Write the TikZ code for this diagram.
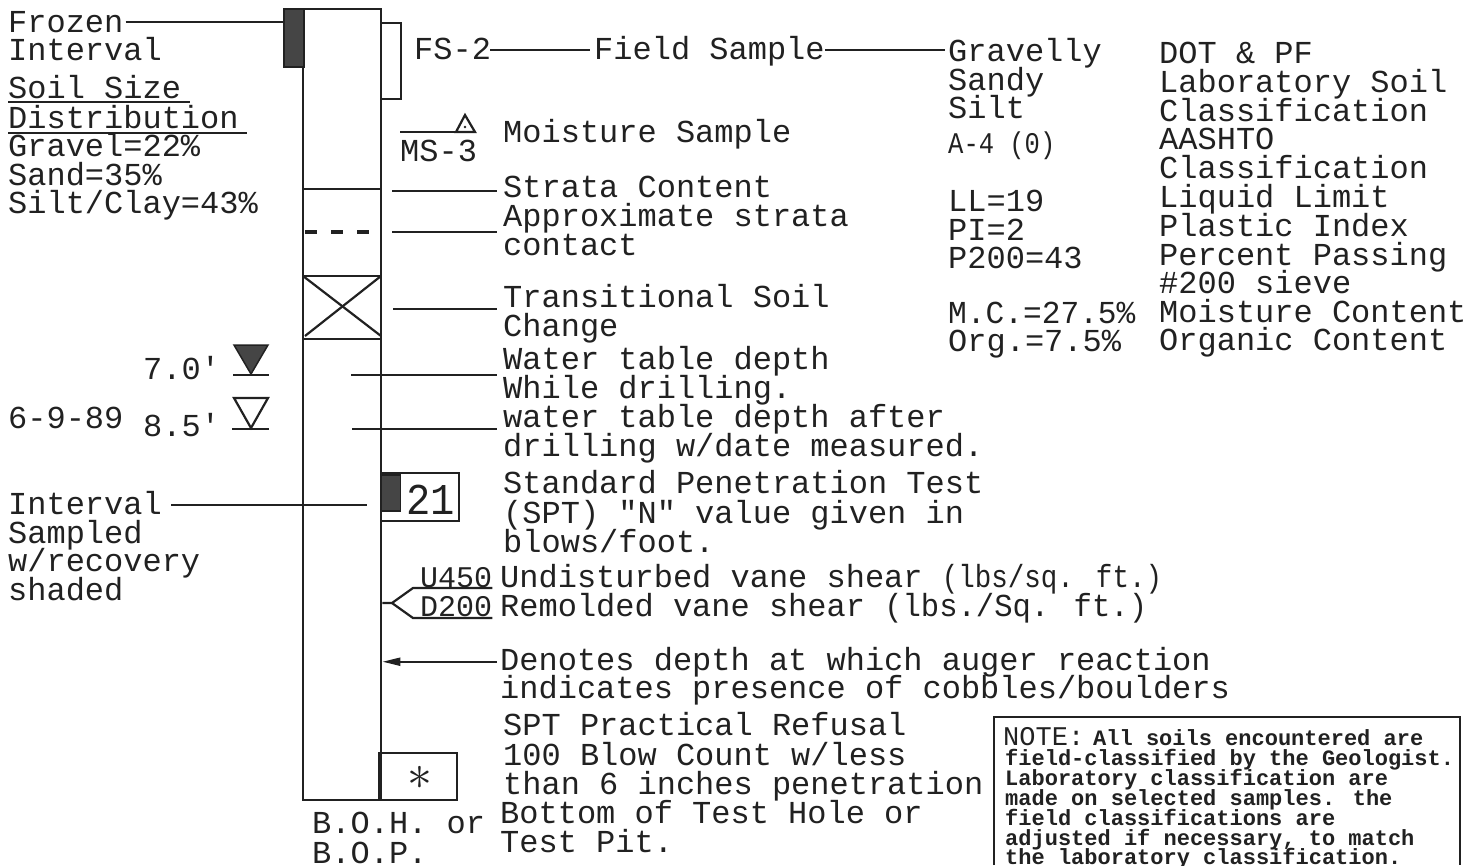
\documentclass[tikz,border=0pt]{standalone}
\usepackage{graphicx}
\usepackage{fontspec}
\setmainfont{Liberation Mono}
\usetikzlibrary{arrows.meta, positioning, calc}

\definecolor{ink}{gray}{0.13}
\definecolor{shade}{gray}{0.27}

\begin{document}
\begin{tikzpicture}[
    x=1pt, y=-1pt,
    lbl/.style={anchor=base west, inner sep=0pt, align=left, text=ink, font=\fontsize{32}{29}\selectfont},
    small/.style={lbl, font=\fontsize{30}{29}\selectfont},
    notetext/.style={lbl, font=\fontsize{22}{20}\selectfont\bfseries},
    outline/.style={draw=ink, line width=2.8pt, line join=miter},
    thin line/.style={draw=ink, line width=2.2pt},
    leader/.style={thin line, shorten >=6pt},
    tank/.style={rectangle, draw=ink, line width=2.8pt, inner sep=0pt},
    recovery/.style={rectangle, fill=shade, draw=ink, line width=1.5pt, inner sep=0pt}
]
\useasboundingbox (0,0) rectangle (1482,865);

% Boring column
\node[tank, minimum width=78pt, minimum height=791pt] (hole) at (342,404.5) {};
\node[recovery, minimum width=20pt, minimum height=58pt] (frozen_block) at (294,38) {};
\draw[outline] (382,23) -- (401,23) -- (401,99) -- (382,99);
\draw[outline] (303,189) -- (381,189);
\draw[outline, line width=3.2pt, dash pattern=on 12pt off 14pt] (305,232) -- (381,232);
\draw[outline] (303,276) -- (381,276);
\draw[outline] (303,339) -- (381,339);
\draw[thin line] (303,276) -- (381,336);
\draw[thin line] (381,276) -- (305,336);

% Left column
\node[lbl] (frozen) at (8,32) {Frozen};
\node[lbl] (frozen_b) at (8,60) {Interval};
\node[lbl] (soil_a) at (8,98) {Soil Size};
\node[lbl] (soil_b) at (8,128) {Distribution};
\node[lbl] (gravel) at (8,156) {Gravel=22\%};
\node[lbl] (sand) at (8,185) {Sand=35\%};
\node[lbl] (silt) at (8,213) {Silt/Clay=43\%};
\draw[thin line] (8,102) -- (190,102);
\draw[thin line] (8,133) -- (247,133);
\node[lbl] (depth_a) at (143,379) {7.0\textquotesingle};
\node[lbl] (date) at (8,428) {6-9-89};
\node[lbl] (depth_b) at (143,436) {8.5\textquotesingle};
\node[lbl] (interval) at (8,514) {Interval};
\node[lbl] (interval_b) at (8,543) {Sampled};
\node[lbl] (interval_c) at (8,571) {w/recovery};
\node[lbl] (interval_d) at (8,600) {shaded};

% Water table symbols
\draw[draw=ink, line width=1.5pt, fill=shade] (234,345) -- (268,345) -- (251,374) -- cycle;
\draw[thin line] (233,375) -- (269,375);
\draw[thin line] (234,398) -- (268,398) -- (251,428) -- cycle;
\draw[thin line] (232,429) -- (269,429);

% Samples
\node[lbl] (fs) at (414,59) {FS-2};
\node[lbl] (field) at (594,59) {Field Sample};
\node[lbl] (ms) at (400,161) {MS-3};
\draw[thin line] (400,132) -- (476,132);
\draw[thin line] (465,115) -- (456,132) -- (475,132) -- cycle;
\fill[ink] (465,127) circle (1.4pt);

% SPT box
\node[tank, minimum width=78pt, minimum height=48pt] (spt_box) at (420,497) {};
\node[recovery, minimum width=19pt, minimum height=36pt] (spt_shade) at (391,493) {};
\node[lbl, font=\fontsize{44}{44}\selectfont] (blows) at (406,514) {\scalebox{0.92}[1]{21}};

% Vane shear
\node[lbl, font=\fontsize{30}{29}\selectfont] (vane_u) at (420,587) {U450};
\node[lbl, font=\fontsize{30}{29}\selectfont] (vane_d) at (420,616) {D200};
\coordinate (fork) at (392,603);
\coordinate (fork_u) at (413,588);
\coordinate (fork_d) at (413,618);
\draw[thin line] (hole.east |- fork) -- (fork) -- (fork_u) -- (vane_u.base east |- fork_u);
\draw[thin line] (fork) -- (fork_d) -- (vane_d.base east |- fork_d);

% Refusal box
\node[tank, minimum width=78pt, minimum height=47pt] (refusal_box) at (418,776.5) {};
\node[inner sep=0pt, text=ink, font=\fontsize{46}{46}\selectfont] (refusal) at (420,778) {\scalebox{2}{$\ast$}};

% Middle labels
\node[lbl] (moist) at (503,142) {Moisture Sample};
\node[lbl] (strata) at (503,197) {Strata Content};
\node[lbl] (contact) at (503,226) {Approximate strata};
\node[lbl] (contact_b) at (503,255) {contact};
\node[lbl] (trans) at (503,307) {Transitional Soil};
\node[lbl] (trans_b) at (503,336) {Change};
\node[lbl] (water) at (503,369) {Water table depth};
\node[lbl] (water_b) at (503,398) {While drilling.};
\node[lbl] (after) at (503,427) {water table depth after};
\node[lbl] (after_b) at (503,456) {drilling w/date measured.};
\node[lbl] (spt) at (503,493) {Standard Penetration Test};
\node[lbl] (spt_b) at (503,523) {(SPT) \textquotedbl N\textquotedbl\ value given in};
\node[lbl] (spt_c) at (503,552) {blows/foot.};
\node[lbl] (undist) at (500,587) {Undisturbed vane shear \scalebox{0.86}[1]{(lbs/sq. ft.)}};
\node[lbl] (remold) at (500,616) {Remolded vane shear \scalebox{0.955}[1]{(lbs./Sq. ft.)}};
\node[lbl] (auger) at (503,670) {\hspace{-3pt}Denotes depth at which auger reaction};
\node[lbl] (auger_b) at (500,698) {indicates presence of cobbles/boulders};
\node[lbl] (ref_a) at (503,735) {SPT Practical Refusal};
\node[lbl] (ref_b) at (503,765) {100 Blow Count w/less};
\node[lbl] (ref_c) at (503,794) {than 6 inches penetration};
\node[lbl] (bottom) at (500,823) {Bottom of Test Hole or};
\node[lbl] (bottom_b) at (500,852) {Test Pit.};
\node[lbl] (boh) at (312,833) {B.O.H. or};
\node[lbl] (bop) at (312,863) {B.O.P.};

% Results column
\node[lbl] (gravelly) at (948,61) {Gravelly};
\node[lbl] (sandy) at (948,90) {Sandy};
\node[lbl] (siltb) at (948,118) {Silt};
\node[small] (aashto_val) at (948,153) {\scalebox{0.85}[1]{A-4 (0)}};
\node[lbl] (ll) at (948,211) {LL=19};
\node[lbl] (pi) at (948,240) {PI=2};
\node[lbl] (p200) at (948,268) {P200=43};
\node[lbl] (mc) at (948,323) {\scalebox{0.975}[1]{M.C.=27.5\%}};
\node[lbl] (org) at (948,351) {Org.=7.5\%};

% Meaning column
\node[lbl] (dot) at (1159,63) {DOT \& PF};
\node[lbl] (lab) at (1159,92) {Laboratory Soil};
\node[lbl] (lab_b) at (1159,121) {Classification};
\node[lbl] (aashto) at (1159,149) {AASHTO};
\node[lbl] (aashto_b) at (1159,178) {Classification};
\node[lbl] (liquid) at (1159,207) {Liquid Limit};
\node[lbl] (plastic) at (1159,236) {Plastic Index};
\node[lbl] (percent) at (1159,265) {Percent Passing};
\node[lbl] (sieve) at (1159,293) {\#200 sieve};
\node[lbl] (moisture) at (1159,322) {Moisture Content};
\node[lbl] (organic) at (1159,350) {Organic Content};

% Note
\draw[outline] (994,865) -- (994,717) -- (1460,717) -- (1460,865);
\node[lbl, font=\fontsize{27}{27}\selectfont] (note_head) at (1003,745) {NOTE:};
\node[notetext] (note_a) at (1093,745) {All soils encountered are};
\node[notetext] (note_b) at (1005,765) {field-classified by the Geologist.};
\node[notetext] (note_c) at (1005,785) {Laboratory classification are};
\node[notetext] (note_d) at (1005,805) {made on selected samples. the};
\node[notetext] (note_e) at (1005,825) {field classifications are};
\node[notetext] (note_f) at (1005,845) {adjusted if necessary, to match};
\node[notetext] (note_g) at (1005,864) {the laboratory classification.};

% Leaders
\coordinate (frozen_end) at (283,22);
\coordinate (strata_end) at (392,191);
\coordinate (contact_end) at (392,232);
\coordinate (trans_end) at (393,309);
\coordinate (water_end) at (351,375);
\coordinate (after_end) at (352,429);
\coordinate (interval_end) at (367,505);
\coordinate (fs_start) at (490,50);
\coordinate (field_in) at (590,50);
\coordinate (field_out) at (825,50);
\coordinate (gravelly_in) at (945,50);
\draw[thin line, shorten <=2pt] (frozen.east |- frozen_end) -- (frozen_end);
\draw[thin line] (fs_start) -- (field_in);
\draw[thin line] (field_out) -- (gravelly_in);
\draw[leader] (strata_end) -- (strata_end -| strata.west);
\draw[leader] (contact_end) -- (contact_end -| contact.west);
\draw[leader] (trans_end) -- (trans_end -| trans.west);
\draw[leader] (water_end) -- (water_end -| water.west);
\draw[leader] (after_end) -- (after_end -| after.west);
\draw[thin line, shorten <=9pt] (interval.east |- interval_end) -- (interval_end);
\draw[thin line, shorten <=6pt, -{Stealth[length=18pt,width=8pt,inset=0pt]}] (auger.west) -- (auger.west -| hole.east);

\end{tikzpicture}
\end{document}
